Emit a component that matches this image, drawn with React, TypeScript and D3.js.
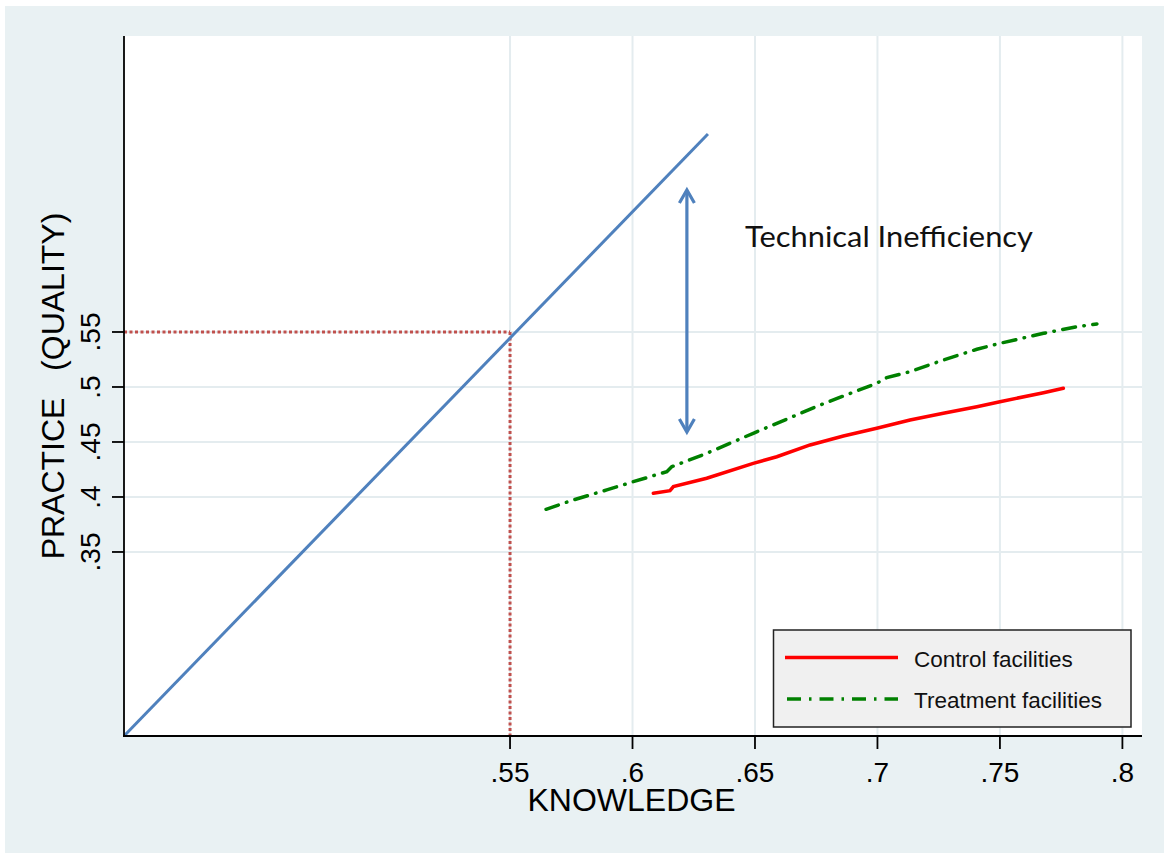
import React from "react";
import * as d3 from "d3";

// ---- data ----
const xTicks = [0.55, 0.6, 0.65, 0.7, 0.75, 0.8];
const xTickLabels = [".55", ".6", ".65", ".7", ".75", ".8"];
const yTicks = [0.35, 0.4, 0.45, 0.5, 0.55];
const yTickLabels = [".35", ".4", ".45", ".5", ".55"];

const controlX = [0.6085, 0.6153, 0.6167, 0.6303, 0.6493, 0.6589, 0.6725, 0.6861, 0.6997, 0.7133, 0.7269, 0.7406, 0.75, 0.7678, 0.7759];
const controlY = [0.4034, 0.4057, 0.4095, 0.417, 0.4306, 0.4366, 0.4473, 0.4555, 0.4625, 0.47, 0.4761, 0.4821, 0.4866, 0.4948, 0.4988];

const treatX = [0.5647, 0.5758, 0.5895, 0.6003, 0.614, 0.616, 0.6303, 0.6493, 0.6766, 0.6861, 0.6997, 0.7038, 0.7133, 0.7269, 0.7406, 0.75, 0.7678, 0.7814, 0.7896];
const treatY = [0.3888, 0.3973, 0.4064, 0.4139, 0.423, 0.4275, 0.4397, 0.4579, 0.4836, 0.4918, 0.5034, 0.5085, 0.5139, 0.5245, 0.5343, 0.5397, 0.5488, 0.5548, 0.5573];

const frontierX = [0.3924, 0.6308];
const frontierY = [0.1827, 0.73];

const refPoint = { x: 0.55, y: 0.55 };
const arrowX = 0.6222;
const arrowY = [0.4591, 0.6791];

const legendLabels = ["Control facilities", "Treatment facilities"];
const annotation = "Technical Inefficiency";

// ---- layout ----
const W = 1164;
const H = 853;
const L = 124, R = 1142, T = 36, B = 736;

const xScale = d3.scaleLinear().domain([0.3924, 0.808]).range([L, R]);
const yScale = d3.scaleLinear().domain([0.1827, 0.8191]).range([B, T]);

const BLUE = "#4f81bd";
const GRID = "#e4ecef";
const BG = "#e9f1f3";
const FONT = "'Liberation Sans', Arial, sans-serif";

export default function App() {
  const line = d3
    .line<[number, number]>()
    .x((d) => xScale(d[0]))
    .y((d) => yScale(d[1]));

  const control = controlX.map((x, i) => [x, controlY[i]] as [number, number]);
  const treat = treatX.map((x, i) => [x, treatY[i]] as [number, number]);
  const frontier = frontierX.map((x, i) => [x, frontierY[i]] as [number, number]);

  const ax = xScale(arrowX);
  const ayTop = yScale(arrowY[1]);
  const ayBot = yScale(arrowY[0]);

  const [d0, d1] = xScale.domain();
  const [e0] = yScale.domain();

  return (
    <svg
      width={W}
      height={H}
      style={{ position: "absolute", left: 0, top: 0, display: "block" }}
    >
      <rect x={0} y={0} width={W} height={H} fill="#ffffff" />
      <rect x={5} y={6} width={W - 5} height={H - 6} fill={BG} />
      <rect x={L} y={T} width={R - L} height={B - T} fill="#ffffff" />

      {/* grid */}
      {xTicks.map((t) => (
        <line key={"gx" + t} x1={xScale(t)} x2={xScale(t)} y1={T} y2={B} stroke={GRID} strokeWidth={2} />
      ))}
      {yTicks.map((t) => (
        <line key={"gy" + t} x1={L} x2={R} y1={yScale(t)} y2={yScale(t)} stroke={GRID} strokeWidth={2} />
      ))}

      {/* reference dotted lines */}
      <line
        x1={xScale(d0)}
        x2={xScale(refPoint.x)}
        y1={yScale(refPoint.y)}
        y2={yScale(refPoint.y)}
        stroke="#c0504d"
        strokeWidth={3}
        strokeDasharray="3 2.5"
      />
      <line
        x1={xScale(refPoint.x)}
        x2={xScale(refPoint.x)}
        y1={yScale(refPoint.y)}
        y2={yScale(e0)}
        stroke="#c0504d"
        strokeWidth={3}
        strokeDasharray="3 2.5"
      />

      {/* frontier */}
      <path d={line(frontier) || ""} fill="none" stroke={BLUE} strokeWidth={3} />

      {/* double arrow */}
      <line x1={ax} x2={ax} y1={ayTop + 1} y2={ayBot - 1} stroke={BLUE} strokeWidth={3.2} />
      <polyline
        points={`${ax - 7.5},${ayTop + 13} ${ax},${ayTop} ${ax + 7.5},${ayTop + 13}`}
        fill="none"
        stroke={BLUE}
        strokeWidth={3.2}
        strokeLinejoin="miter"
      />
      <polyline
        points={`${ax - 7.5},${ayBot - 13} ${ax},${ayBot} ${ax + 7.5},${ayBot - 13}`}
        fill="none"
        stroke={BLUE}
        strokeWidth={3.2}
        strokeLinejoin="miter"
      />

      <text
        x={745}
        y={246.5}
        fontFamily="Lato, 'Open Sans', sans-serif"
        fontSize={29}
        fill="#111"
        textLength={288}
        lengthAdjust="spacingAndGlyphs"
      >
        {annotation}
      </text>

      {/* data curves */}
      <path d={line(treat) || ""} fill="none" stroke="#008000" strokeWidth={3.5} strokeDasharray="13 8.5 0.5 8.5" strokeLinecap="round" />
      <path d={line(control) || ""} fill="none" stroke="#ff0000" strokeWidth={3.5} strokeLinecap="round" />

      {/* axes */}
      <line x1={L} x2={L} y1={T} y2={B + 1} stroke="#000" strokeWidth={1.8} />
      <line x1={L - 1} x2={R} y1={B} y2={B} stroke="#000" strokeWidth={1.8} />

      {yTicks.map((t, i) => (
        <g key={"yt" + t}>
          <line x1={L - 12} x2={L} y1={yScale(t)} y2={yScale(t)} stroke="#000" strokeWidth={1.8} />
          <text
            transform={`translate(${99.5},${yScale(t)}) rotate(-90)`}
            textAnchor="middle"
            fontFamily={FONT}
            fontSize={28}
            fill="#000"
          >
            {yTickLabels[i]}
          </text>
        </g>
      ))}
      {xTicks.map((t, i) => (
        <g key={"xt" + t}>
          <line x1={xScale(t)} x2={xScale(t)} y1={B} y2={B + 13} stroke="#000" strokeWidth={1.8} />
          <text x={xScale(t)} y={781.5} textAnchor="middle" fontFamily={FONT} fontSize={28} fill="#000">
            {xTickLabels[i]}
          </text>
        </g>
      ))}

      {/* axis titles */}
      <text x={631.5} y={811} textAnchor="middle" fontFamily={FONT} fontSize={32} fill="#000">
        KNOWLEDGE
      </text>
      <text
        transform={`translate(63.5,386) rotate(-90)`}
        textAnchor="middle"
        fontFamily={FONT}
        fontSize={32}
        fill="#000"
        style={{ whiteSpace: "pre" }}
      >
        {"PRACTICE   (QUALITY)"}
      </text>

      {/* legend */}
      <rect x={773.5} y={630} width={357.5} height={97} fill="#f0f0f0" stroke="#222" strokeWidth={1.5} />
      <line x1={785} x2={898} y1={657.5} y2={657.5} stroke="#ff0000" strokeWidth={3.5} />
      <line x1={787} x2={898} y1={699} y2={699} stroke="#008000" strokeWidth={3.5} strokeDasharray="14 8 2.5 8" />
      <text x={914} y={667} fontFamily={FONT} fontSize={22.5} fill="#111">
        {legendLabels[0]}
      </text>
      <text x={914} y={707.5} fontFamily={FONT} fontSize={22.5} fill="#111">
        {legendLabels[1]}
      </text>
    </svg>
  );
}
